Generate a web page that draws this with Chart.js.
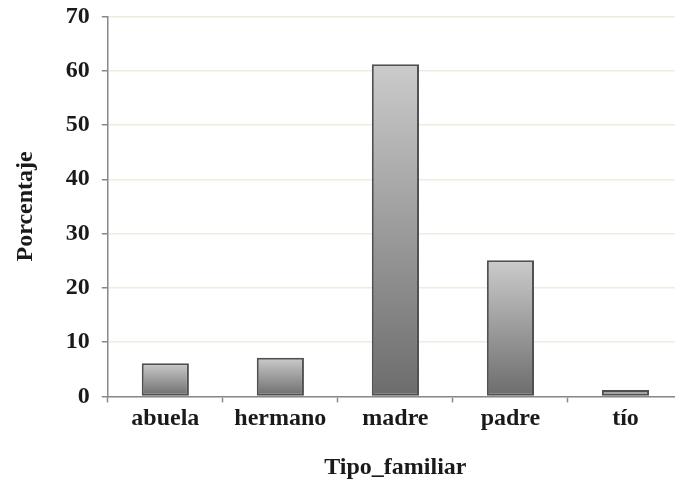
<!DOCTYPE html>
<html>
<head>
<meta charset="utf-8">
<script src="https://cdn.jsdelivr.net/npm/chart.js@4"></script>
<style>
	html, body { margin: 0; padding: 0; background: #fff; overflow: hidden; }
	#wrap { width: 675px; height: 482px; overflow: hidden; }
	#chart { display: block; margin-top: -10px; }
</style>
</head>
<body>
<div id="wrap"><canvas id="chart" width="683" height="494"></canvas></div>
<script>
const categories = ['abuela', 'hermano', 'madre', 'padre', 'tío'];
const percentages = [6.1, 7.1, 61.2, 25.1, 1.2];
const yTicks = [0, 10, 20, 30, 40, 50, 60, 70];

const font = { family: "'Liberation Serif', 'Times New Roman', serif", weight: 'bold', size: 24 };

// each bar gets its own light-to-dark gradient
function barFill(context) {
	const chart = context.chart;
	const y = chart.scales.y;
	if (!y || !chart.chartArea) return '#999';
	const v = context.parsed ? context.parsed.y : percentages[context.dataIndex];
	const top = y.getPixelForValue(v);
	const base = y.getPixelForValue(0);
	if (!isFinite(top) || !isFinite(base) || top === base) return '#999';
	const g = chart.ctx.createLinearGradient(0, top, 0, base);
	g.addColorStop(0, '#cbcbcb');
	g.addColorStop(1, '#6c6c6c');
	return g;
}

const chart = new Chart(document.getElementById('chart'), {
	type: 'bar',
	data: {
		labels: categories,
		datasets: [
			{
				data: percentages,
				backgroundColor: barFill,
				borderColor: '#505050',
				borderWidth: 2,
				borderSkipped: false,
				barPercentage: 0.82,
				categoryPercentage: 0.5,
			},
		],
	},
	options: {
		responsive: false,
		animation: false,
		devicePixelRatio: 1,
		layout: { padding: { top: 8, right: 0, bottom: 2, left: 11 } },
		plugins: {
			legend: { display: false },
			tooltip: { enabled: false },
		},
		scales: {
			x: {
				grid: {
					drawOnChartArea: false,
					drawTicks: true,
					tickLength: 6,
					tickColor: '#888',
					tickWidth: 1.5,
				},
				border: { color: '#888', width: 1.5 },
				ticks: { color: '#1a1a1a', font: font, padding: 2 },
				title: {
					display: true,
					text: 'Tipo_familiar',
					color: '#1a1a1a',
					font: font,
					padding: { top: 18, bottom: 0 },
				},
			},
			y: {
				min: 0,
				max: 70,
				afterBuildTicks: (axis) => {
					axis.ticks = yTicks.map((v) => ({ value: v }));
				},
				grid: {
					color: '#efebdf',
					lineWidth: 1.5,
					tickLength: 6,
					tickColor: '#888',
					tickWidth: 1.5,
				},
				border: { color: '#888', width: 1.5 },
				ticks: { color: '#1a1a1a', font: font, padding: 12 },
				title: {
					display: true,
					text: 'Porcentaje',
					color: '#1a1a1a',
					font: font,
					padding: { top: 0, bottom: 14 },
				},
			},
		},
	},
});
</script>
</body>
</html>
